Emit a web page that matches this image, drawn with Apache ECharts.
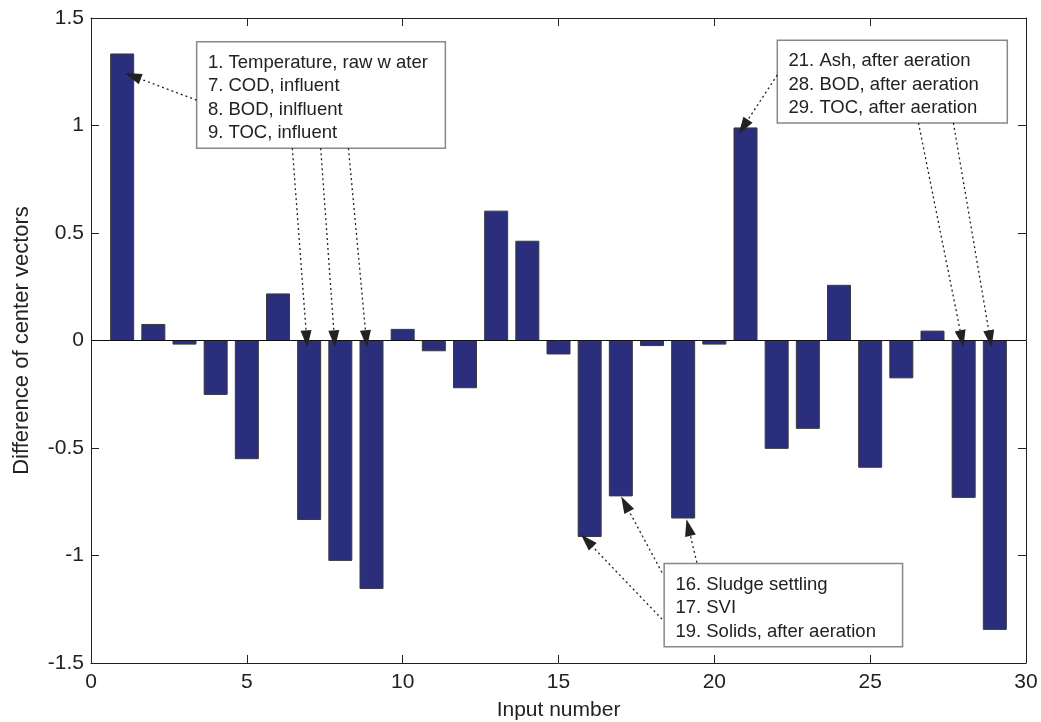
<!DOCTYPE html>
<html><head><meta charset="utf-8">
<script src="https://cdn.jsdelivr.net/npm/echarts@6/dist/echarts.min.js"></script>
<style>html,body{margin:0;padding:0;background:#fff}#c{width:1041px;height:722px}</style>
</head><body><div id="c"></div>
<script>
// ---- data ----
const inputNumbers = [1,2,3,4,5,6,7,8,9,10,11,12,13,14,15,16,17,18,19,20,21,22,23,24,25,26,27,28,29];
const centerDiffs = [1.335,0.077,-0.019,-0.253,-0.552,0.219,-0.835,-1.025,-1.156,0.054,-0.050,-0.222,0.604,0.464,-0.065,-0.914,-0.725,-0.026,-0.828,-0.019,0.991,-0.504,-0.411,0.259,-0.592,-0.176,0.046,-0.732,-1.346];
const xTickValues = [0,5,10,15,20,25,30];
const yTickValues = [-1.5,-1,-0.5,0,0.5,1,1.5];
const noteTexts = [
  "1. Temperature, raw w ater\n7. COD, influent\n8. BOD, inlfluent\n9. TOC, influent",
  "21. Ash, after aeration\n28. BOD, after aeration\n29. TOC, after aeration",
  "16. Sludge settling\n17. SVI\n19. Solids, after aeration"
];
// box corners in data units: [xLeft, yTop, xRight, yBottom]
const noteBoxes = [
  [3.39, 1.390, 11.37, 0.894],
  [22.02, 1.397, 29.40, 1.012],
  [18.39, -1.037, 26.04, -1.424]
];
// arrows in data units: [xFrom, yFrom, xTo, yTo]
const noteArrows = [
  [3.39, 1.118, 1.34, 1.230],
  [6.46, 0.894, 6.92, 0.008],
  [7.37, 0.894, 7.81, 0.008],
  [8.26, 0.894, 8.83, 0.008],
  [22.02, 1.235, 20.93, 0.994],
  [26.55, 1.012, 27.94, 0.008],
  [27.67, 1.012, 28.85, 0.008],
  [18.32, -1.296, 15.91, -0.931],
  [18.32, -1.079, 17.14, -0.760],
  [19.44, -1.033, 19.17, -0.870]
];
// ---- chart ----
const FONT = "'Liberation Sans', Arial, sans-serif";
const INK = '#222';
const chart = echarts.init(document.getElementById('c'), null, {renderer: 'canvas'});
const axisCommon = {
  axisLine: {show: true, onZero: false, lineStyle: {color: INK, width: 1}},
  axisTick: {show: true, inside: true, length: 8, lineStyle: {color: INK}},
  splitLine: {show: false}
};
const xMin = xTickValues[0], xMax = xTickValues[xTickValues.length - 1];
const yMin = yTickValues[0], yMax = yTickValues[yTickValues.length - 1];
chart.setOption({
  animation: false,
  backgroundColor: '#fff',
  textStyle: {fontFamily: FONT},
  grid: {left: 91, right: 15, top: 18, bottom: 59, containLabel: false, outerBoundsMode: 'none'},
  xAxis: [
    Object.assign({
      type: 'value', min: xMin, max: xMax, interval: xTickValues[1] - xTickValues[0], position: 'bottom',
      name: 'Input number', nameLocation: 'middle', nameGap: 37,
      nameTextStyle: {fontFamily: FONT, fontSize: 21, color: INK},
      axisLabel: {fontFamily: FONT, fontSize: 21, color: INK, margin: 9}
    }, axisCommon),
    Object.assign({
      type: 'value', min: xMin, max: xMax, interval: xTickValues[1] - xTickValues[0], position: 'top',
      axisLabel: {show: false}
    }, axisCommon)
  ],
  yAxis: [
    Object.assign({
      type: 'value', min: yMin, max: yMax, interval: yTickValues[1] - yTickValues[0], position: 'left',
      name: 'Difference of center vectors', nameLocation: 'middle', nameGap: 58,
      nameTextStyle: {fontFamily: FONT, fontSize: 22, color: INK},
      axisLabel: {fontFamily: FONT, fontSize: 21, color: INK, margin: 7}
    }, axisCommon),
    Object.assign({
      type: 'value', min: yMin, max: yMax, interval: yTickValues[1] - yTickValues[0], position: 'right',
      axisLabel: {show: false}
    }, axisCommon)
  ],
  series: [
    {
      type: 'bar',
      xAxisIndex: 0, yAxisIndex: 0,
      data: inputNumbers.map((n, i) => [n, centerDiffs[i]]),
      barWidth: 24,
      itemStyle: {color: '#2a2e7c', borderColor: '#3a3a3a', borderWidth: 1},
      markLine: {
        silent: true, symbol: ['none', 'none'],
        label: {show: false},
        lineStyle: {color: '#111', width: 1, type: 'solid'},
        data: [{yAxis: 0}]
      }
    },
    {
      type: 'line',
      xAxisIndex: 0, yAxisIndex: 0,
      data: [],
      markArea: {
        silent: true,
        itemStyle: {color: '#fff', borderColor: '#888', borderWidth: 1.5},
        label: {
          show: true, position: 'insideTopLeft', distance: 0,
          fontFamily: FONT, fontSize: 18.5, color: INK, lineHeight: 23.5,
          padding: [10, 0, 0, 12], align: 'left', verticalAlign: 'top'
        },
        data: noteBoxes.map((b, i) => [
          {coord: [b[0], b[1]], name: noteTexts[i]},
          {coord: [b[2], b[3]]}
        ])
      },
      markLine: {
        silent: true,
        symbol: ['none', 'triangle'],
        symbolSize: [11, 17],
        label: {show: false},
        lineStyle: {color: '#222', width: 1.3, type: [2, 3]},
        itemStyle: {color: '#111'},
        data: noteArrows.map(a => [
          {coord: [a[0], a[1]]},
          {coord: [a[2], a[3]]}
        ])
      }
    }
  ]
});
</script></body></html>
